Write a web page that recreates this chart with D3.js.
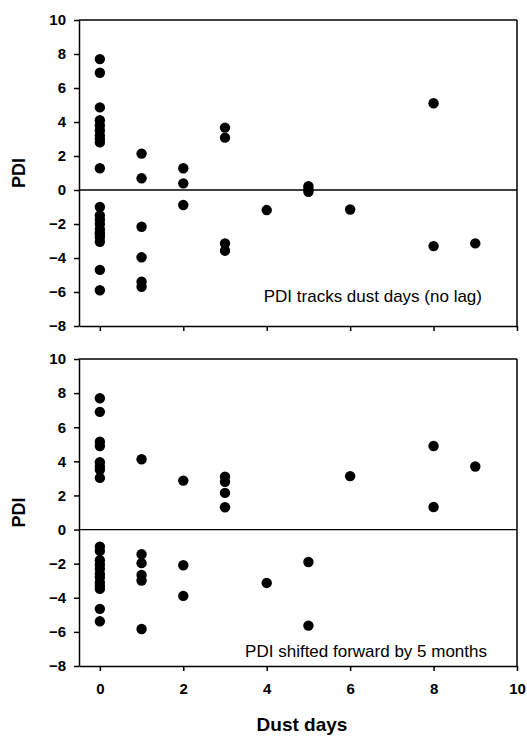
<!DOCTYPE html>
<html>
<head>
<meta charset="utf-8">
<script src="https://cdn.jsdelivr.net/npm/d3@7"></script>
<style>
  body { margin: 0; background: #fff; }
  svg { display: block; }
  .axis text { font-family: "Liberation Sans", Arial, sans-serif; font-weight: bold; font-size: 15px; fill: #000; }
  .axis path, .axis line { stroke: #000; stroke-width: 1.5; }
</style>
</head>
<body>
<div id="chart"></div>
<script>
var width = 527, height = 736;

// top panel: no lag
var daysA = [0,0,0,0,0,0,0,0,0,0,0, 0,0,0,0,0,0,0,0,0,0,
  1,1,1,1,1,1, 2,2,2, 3,3,3,3, 4, 5,5,5, 6, 8,8, 9];
var pdiA = [7.7,6.9,4.86,4.1,3.8,3.5,3.2,3.0,2.8,1.28,
  -1.0,-1.5,-1.75,-2.0,-2.3,-2.5,-2.8,-3.05,-4.7,-5.9,-2.65,
  2.14,0.69,-2.16,-3.96,-5.39,-5.69, 1.28,0.39,-0.88, 3.67,3.08,-3.14,-3.57,
  -1.18, 0.22,0.05,-0.1, -1.15, 5.1,-3.3, -3.14];

// bottom panel: PDI shifted 5 months
var daysB = [0,0,0,0,0,0,0,0, 0,0,0,0,0,0,0,0,0,0,0,0,
  1,1,1,1,1,1, 2,2,2, 3,3,3,3, 4, 5,5, 6, 8,8, 9];
var pdiB = [7.7,6.9,5.15,4.9,3.95,3.7,3.5,3.03,
  -1.0,-1.25,-1.8,-2.05,-2.3,-2.6,-2.8,-3.1,-3.3,-3.48,-4.65,-5.38,
  4.12,-1.45,-1.97,-2.66,-2.99,-5.83, 2.87,-2.09,-3.89, 3.1,2.8,2.15,1.31,
  -3.13, -1.9,-5.63, 3.13, 4.9,1.32, 3.7];

var xTicks = [0,2,4,6,8,10];
var yTicks = [-8,-6,-4,-2,0,2,4,6,8,10];

var panels = [
  {days: daysA, pdi: pdiA, top: 20, bottom: 326, note: "PDI tracks dust days (no lag)", noteX: 482, noteY: 302, xlabels: false},
  {days: daysB, pdi: pdiB, top: 359, bottom: 666, note: "PDI shifted forward by 5 months", noteX: 487, noteY: 657, xlabels: true}
];

var left = 79, right = 517;

var svg = d3.select("#chart").append("svg")
  .attr("width", width)
  .attr("height", height);

var x = d3.scaleLinear().domain([-0.5, 10]).range([left, right]);

panels.forEach(function(p) {
  var y = d3.scaleLinear().domain([-8, 10]).range([p.bottom, p.top]);
  var g = svg.append("g");

  // frame top + right
  g.append("line").attr("x1", left).attr("x2", right).attr("y1", p.top).attr("y2", p.top)
    .attr("stroke", "#000").attr("stroke-width", 1.5);
  g.append("line").attr("x1", right).attr("x2", right).attr("y1", p.top).attr("y2", p.bottom)
    .attr("stroke", "#000").attr("stroke-width", 1.5);

  // zero line
  g.append("line").attr("x1", left).attr("x2", right).attr("y1", y(0)).attr("y2", y(0))
    .attr("stroke", "#000").attr("stroke-width", 1.3);

  g.append("g")
    .attr("class", "axis")
    .attr("transform", "translate(" + left + ",0)")
    .call(d3.axisLeft(y).tickValues(yTicks).tickSize(5).tickPadding(8).tickSizeOuter(0));

  var xa = d3.axisBottom(x).tickValues(xTicks).tickSize(5).tickSizeOuter(0).tickPadding(12);
  if (!p.xlabels) xa.tickFormat("");
  g.append("g")
    .attr("class", "axis")
    .attr("transform", "translate(0," + p.bottom + ")")
    .call(xa);

  g.selectAll("circle")
    .data(p.days.map(function(d, i) { return {x: d, y: p.pdi[i]}; }))
    .enter()
    .append("circle")
    .attr("cx", function(d) { return x(d.x); })
    .attr("cy", function(d) { return y(d.y); })
    .attr("r", 5.2)
    .attr("fill", "#000");

  g.append("text")
    .attr("x", p.noteX)
    .attr("y", p.noteY)
    .attr("text-anchor", "end")
    .style("font-family", "'Liberation Sans', Arial, sans-serif")
    .style("font-size", "17px")
    .text(p.note);

  g.append("text")
    .attr("transform", "translate(25," + ((p.top + p.bottom) / 2) + ") rotate(-90)")
    .attr("text-anchor", "middle")
    .style("font-family", "'Liberation Sans', Arial, sans-serif")
    .style("font-weight", "bold")
    .style("font-size", "18px")
    .text("PDI");
});

svg.append("text")
  .attr("x", 302)
  .attr("y", 731)
  .attr("text-anchor", "middle")
  .style("font-family", "'Liberation Sans', Arial, sans-serif")
  .style("font-weight", "bold")
  .style("font-size", "19px")
  .text("Dust days");
</script>
</body>
</html>
